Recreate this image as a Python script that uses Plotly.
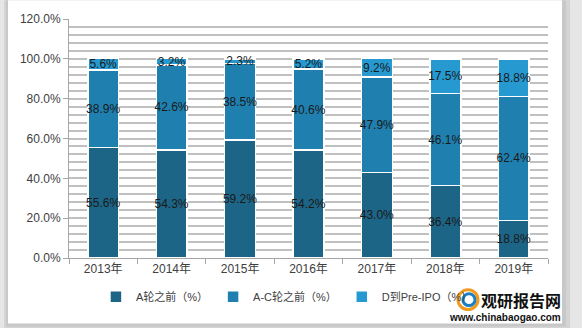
import plotly.graph_objects as go

years = ["2013年", "2014年", "2015年", "2016年", "2017年", "2018年", "2019年"]
pre_a = [55.6, 54.3, 59.2, 54.2, 43.0, 36.4, 18.8]
a_to_c = [38.9, 42.6, 38.5, 40.6, 47.9, 46.1, 62.4]
d_to_preipo = [5.6, 3.2, 2.3, 5.2, 9.2, 17.5, 18.8]
series_names = ["A轮之前（%）", "A-C轮之前（%）", "D到Pre-IPO（%）"]
colors = ["#1d6586", "#1f80af", "#2699d0"]
y_ticks = [0, 20, 40, 60, 80, 100, 120]

FONT = "Liberation Sans, Noto Sans CJK SC, sans-serif"

W, H = 582, 328
L, R, T, B = 69, 34, 17, 70
PW, PH = W - L - R, H - T - B


def px_x(p):
    return (p - L) / PW


def px_y(p):
    return (H - B - p) / PH


fig = go.Figure()
for name, vals, col in zip(series_names, [pre_a, a_to_c, d_to_preipo], colors):
    fig.add_trace(go.Bar(
        x=years, y=vals, name=name,
        marker=dict(color=col, line=dict(color="white", width=1.5)),
        width=0.45,
        texttemplate="%{y:.1f}%",
        textposition="inside",
        insidetextanchor="middle",
        textangle=0,
        textfont=dict(color="#1a1a1a", size=12, family=FONT),
    ))

shapes = [
    # outer shadow band
    dict(type="rect", xref="paper", yref="paper", layer="below",
         x0=px_x(4), x1=px_x(570), y0=px_y(330), y1=px_y(-2),
         fillcolor="#d4d4d4", line=dict(width=0)),
    dict(type="rect", xref="paper", yref="paper", layer="below",
         x0=px_x(6), x1=px_x(566), y0=px_y(327), y1=px_y(-2),
         fillcolor="#c8c8c8", line=dict(width=0)),
    # white chart area
    dict(type="rect", xref="paper", yref="paper", layer="below",
         x0=px_x(8), x1=px_x(562), y0=px_y(324), y1=px_y(-2),
         fillcolor="white", line=dict(width=0)),
]

annotations = [
    dict(text="<b>观研报告网</b>", xref="paper", yref="paper",
         x=px_x(563), y=px_y(300), xanchor="right", yanchor="middle",
         showarrow=False, font=dict(size=16, color="#111111",
                                    family="Noto Sans CJK SC, sans-serif")),
    dict(text="<b>www.chinabaogao.com</b>", xref="paper", yref="paper",
         x=px_x(563), y=px_y(318), xanchor="right", yanchor="middle",
         showarrow=False, font=dict(size=10, color="#111111", family=FONT)),
]
# simple logo swirl
shapes += [
    dict(type="circle", xref="paper", yref="paper",
         x0=px_x(458), x1=px_x(478), y0=px_y(310), y1=px_y(290),
         line=dict(color="#f39a1e", width=3), fillcolor="rgba(0,0,0,0)"),
    dict(type="circle", xref="paper", yref="paper",
         x0=px_x(463), x1=px_x(475), y0=px_y(306), y1=px_y(294),
         line=dict(color="#1d7fc1", width=3), fillcolor="rgba(0,0,0,0)"),
]

fig.update_layout(
    width=W, height=H,
    barmode="stack",
    bargap=0.55,
    margin=dict(l=L, r=R, t=T, b=B, pad=0),
    paper_bgcolor="#e6e6e6",
    plot_bgcolor="white",
    font=dict(family=FONT, size=12, color="#404040"),
    uniformtext=dict(minsize=12, mode="show"),
    showlegend=True,
    legend=dict(orientation="h", x=0.455, xanchor="center",
                y=px_y(297), yanchor="middle",
                font=dict(size=11, color="#404040"),
                bgcolor="rgba(0,0,0,0)", itemwidth=30,
                traceorder="normal"),
    shapes=shapes,
    annotations=annotations,
)
fig.update_xaxes(
    type="category",
    showline=True, linecolor="#a6a6a6", linewidth=1,
    ticks="outside", ticklen=5, tickcolor="#a6a6a6",
    tickson="boundaries",
    tickfont=dict(size=12, color="#404040"),
    showgrid=False,
)
fig.update_yaxes(
    range=[0, 120],
    tickvals=y_ticks,
    ticktext=[f"{v:.1f}%" for v in y_ticks],
    showline=True, linecolor="#a6a6a6", linewidth=1,
    ticks="outside", ticklen=5, tickcolor="#a6a6a6",
    showgrid=True, gridcolor="#c0c0c0", gridwidth=1.5,
    minor=dict(dtick=4, tick0=0, showgrid=True, gridcolor="#c0c0c0", gridwidth=1.5),
    tickfont=dict(size=12, color="#404040"),
    zeroline=False,
)

fig.write_html("out.html")
